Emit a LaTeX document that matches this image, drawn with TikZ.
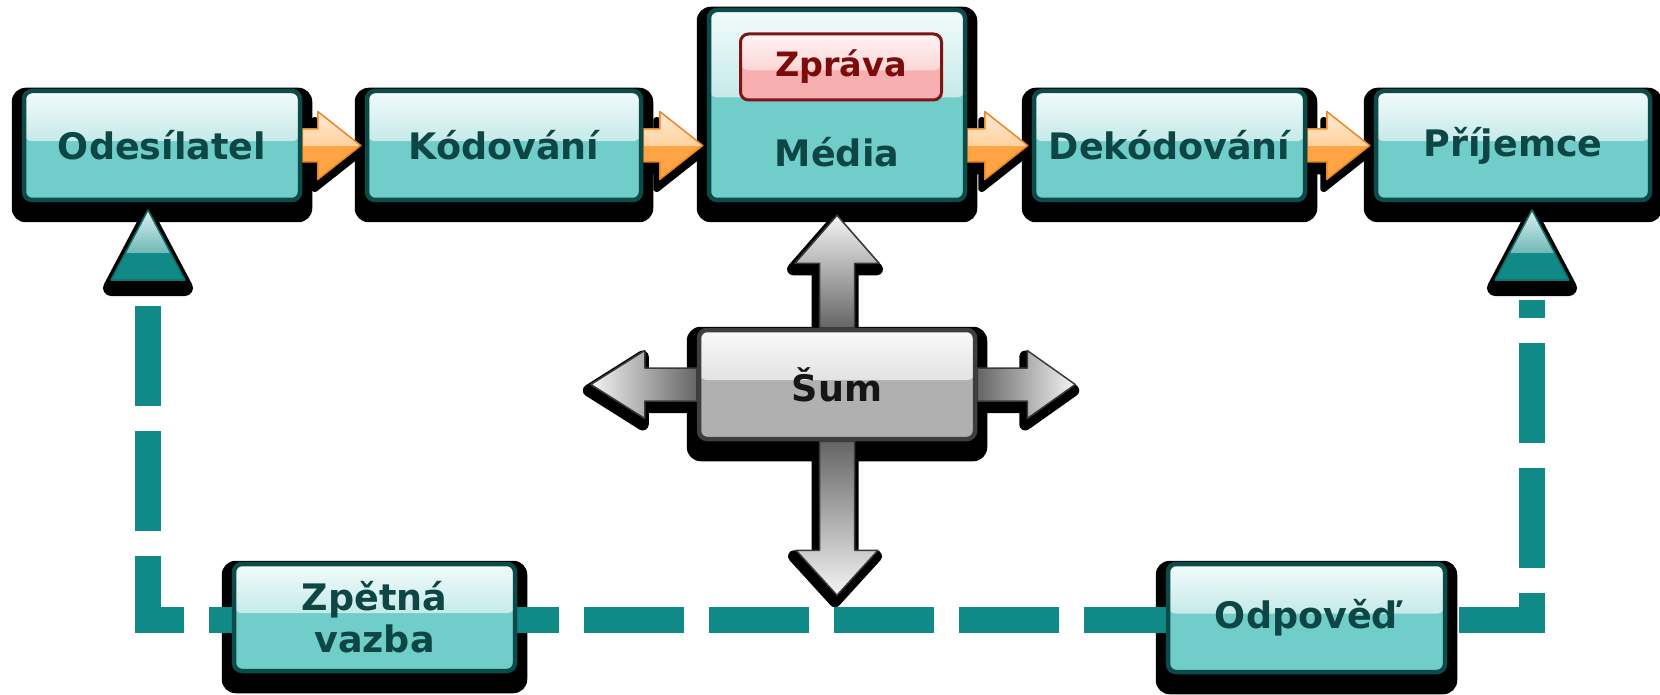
\documentclass[tikz,border=0pt]{standalone}
\usepackage{fontspec}
\setmainfont{DejaVu Sans}
\usetikzlibrary{calc}
\definecolor{tealbase}{HTML}{70CDCA}
\definecolor{tealmid}{HTML}{8FD6D3}
\definecolor{tealtop}{HTML}{F3FBFB}
\definecolor{tealborder}{HTML}{0B4B49}
\definecolor{tealtext}{HTML}{0D4644}
\definecolor{fbteal}{HTML}{108A87}
\definecolor{tridark}{HTML}{118A87}
\definecolor{trimid}{HTML}{2B9693}
\definecolor{tritop}{HTML}{D9F0EF}
\definecolor{triborder}{HTML}{0F6F6C}
\definecolor{pinkbase}{HTML}{F7AFAF}
\definecolor{pinkmid}{HTML}{F8BDBD}
\definecolor{pinktop}{HTML}{FFF4F4}
\definecolor{pinkborder}{HTML}{7E1414}
\definecolor{pinktext}{HTML}{7D0B0B}
\definecolor{graybase}{HTML}{B0B0B0}
\definecolor{graymid}{HTML}{C6C6C6}
\definecolor{graytop}{HTML}{FAFAFA}
\definecolor{grayborder}{HTML}{3E3E3E}
\definecolor{graytext}{HTML}{151515}
\definecolor{orbase}{HTML}{FFA445}
\definecolor{ormid}{HTML}{FFB868}
\definecolor{ortop}{HTML}{FFEBD6}
\definecolor{orborder}{HTML}{EC8620}
\definecolor{garlight}{HTML}{F4F4F4}
\definecolor{gardark}{HTML}{656565}
\definecolor{garborder}{HTML}{3A3A3A}

\pgfdeclarelayer{shadow}
\pgfdeclarelayer{mid}
\pgfsetlayers{shadow,mid,main}

\newcommand\boxfont{\fontsize{36.5pt}{42pt}\selectfont\bfseries}
\newcommand\msgfont{\fontsize{33.5pt}{40pt}\selectfont\bfseries}

% block arrow: start, tip, dx, dy, shaft half width, head half width, head length, style
\newcommand\barrow[8]{%
 \path[#8] ($(#1)+({-(#4)*(#5)},{(#3)*(#5)})$)
  -- ($(#2)+({-(#3)*(#7)-(#4)*(#5)},{-(#4)*(#7)+(#3)*(#5)})$)
  -- ($(#2)+({-(#3)*(#7)-(#4)*(#6)},{-(#4)*(#7)+(#3)*(#6)})$)
  -- (#2)
  -- ($(#2)+({-(#3)*(#7)+(#4)*(#6)},{-(#4)*(#7)-(#3)*(#6)})$)
  -- ($(#2)+({-(#3)*(#7)+(#4)*(#5)},{-(#4)*(#7)-(#3)*(#5)})$)
  -- ($(#1)+({(#4)*(#5)},{-(#3)*(#5)})$) -- cycle;}
% feedback arrowhead (triangle) above a line end
\newcommand\trishape[2]{\path[#2] ($(#1)+(0,-90)$) -- ($(#1)+(37,-20)$) -- ($(#1)+(-37,-20)$) -- cycle;}

\tikzset{
 gloss/.style n args={3}{path picture={
   \shade[top color=#1, bottom color=#2]
     (path picture bounding box.north west) rectangle
     ($(path picture bounding box.north east)!#3!(path picture bounding box.south east)$);}},
 tealbox/.style={shape=rectangle, rounded corners=8pt, draw=tealborder, line width=4.5pt, fill=tealbase, gloss={tealtop}{tealmid}{0.46}, text=tealtext, font=\boxfont, align=center, inner sep=0pt},
 pinkbox/.style={shape=rectangle, rounded corners=8pt, draw=pinkborder, line width=3pt, fill=pinkbase, gloss={pinktop}{pinkmid}{0.55}, text=pinktext, font=\msgfont, inner sep=0pt},
 graybox/.style={shape=rectangle, rounded corners=8pt, draw=grayborder, line width=4.5pt, fill=graybase, gloss={graytop}{graymid}{0.46}, text=graytext, font=\boxfont, inner sep=0pt},
 boxtext/.style={text=tealtext, font=\boxfont, inner sep=0pt},
 boxshadow/.style={fill=black, rounded corners=14pt},
 arrshadow/.style={fill=black, draw=black, line width=#1, line join=round},
 orarrow/.style={fill=orbase, gloss={ortop}{ormid}{0.5}, draw=orborder, line width=1.5pt, line join=round},
 grayarrow/.style={draw=garborder, line width=1.5pt, line join=round},
 fbline/.style={draw=fbteal, line width=26pt, dash pattern=on 100pt off 25pt, dash phase=82pt, line cap=butt, line join=miter},
 trihead/.style={fill=tridark, gloss={tritop}{trimid}{0.6}, draw=triborder, line width=1.5pt, line join=round},
 trishadow/.style={fill=black, draw=black, line width=16pt, line join=round}
}

\begin{document}
\begin{tikzpicture}[x=1pt,y=-1pt]
\useasboundingbox (0,0) rectangle (1660,695);

% boxes
\node[tealbox, minimum width=276pt, minimum height=109pt] (ods) at (162,145.5) {Odesílatel};
\node[tealbox, minimum width=274pt, minimum height=109pt] (kod) at (504,145.5) {Kódování};
\node[tealbox, minimum width=256pt, minimum height=190pt] (med) at (837,105) {};
\node[boxtext] (medt) at (837,152) {Média};
\node[pinkbox, minimum width=201pt, minimum height=66pt] (zpr) at (841,67) {Zpráva};
\node[tealbox, minimum width=271pt, minimum height=109pt] (dek) at (1169.5,145.5) {Dekódování};
\node[tealbox, minimum width=274pt, minimum height=109pt] (pri) at (1513,145.5) {Příjemce};
\node[graybox, minimum width=276pt, minimum height=109pt] (sum) at (837,384.5) {Šum};
\node[tealbox, minimum width=281pt, minimum height=107pt] (zpv) at (374.5,617.5) {Zpětná\\vazba};
\node[tealbox, minimum width=277pt, minimum height=108pt] (odp) at (1306.5,618) {Odpověď};

% box shadows
\begin{pgfonlayer}{shadow}
\foreach \nn in {ods,kod,med,dek,pri,sum,zpv,odp}
  \path[boxshadow] ($(\nn.north west)+(-10,-1)$) rectangle ($(\nn.south east)+(10,20)$);
\end{pgfonlayer}

% feedback loop
\coordinate (fbR) at (1532,300);
\coordinate (fbL) at (148,300);
\coordinate (fbB) at (148,620);
\begin{pgfonlayer}{mid}
\draw[fbline] (fbR) |- (fbB) -- (fbL);
\end{pgfonlayer}
\begin{pgfonlayer}{shadow}
\trishape{fbL}{trishadow, transform canvas={shift={(0,8)}}}
\trishape{fbR}{trishadow, transform canvas={shift={(0,8)}}}
\end{pgfonlayer}
\begin{pgfonlayer}{mid}
\trishape{fbL}{trihead}
\trishape{fbR}{trihead}
\end{pgfonlayer}

% orange flow arrows
\coordinate (a1s) at (ods.east);
\coordinate (a1t) at ($(kod.west)+(-4,0)$);
\coordinate (a2s) at (kod.east);
\coordinate (a2t) at ($(med.west |- kod.west)+(-4,0)$);
\coordinate (a3s) at (med.east |- dek.west);
\coordinate (a3t) at ($(dek.west)+(-4,0)$);
\coordinate (a4s) at (dek.east);
\coordinate (a4t) at ($(pri.west)+(-4,0)$);
\foreach \sa/\ta in {a1s/a1t,a2s/a2t,a3s/a3t,a4s/a4t}{
  \begin{pgfonlayer}{shadow}
  \barrow{\sa}{\ta}{1}{0}{16.5}{34}{43}{arrshadow=7pt, transform canvas={shift={(-3,9)}}}
  \end{pgfonlayer}
  \begin{pgfonlayer}{mid}
  \barrow{\sa}{\ta}{1}{0}{16.5}{34}{43}{orarrow}
  \end{pgfonlayer}
}

% noise arrows
\coordinate (gUs) at (sum.north);
\coordinate (gUt) at ($(med.south)+(0,13)$);
\coordinate (gDs) at (sum.south);
\coordinate (gDt) at ($(sum.south)+(0,154)$);
\coordinate (gLs) at (sum.west);
\coordinate (gLt) at ($(sum.west)+(-106,0)$);
\coordinate (gRs) at (sum.east);
\coordinate (gRt) at ($(sum.east)+(98,0)$);
\begin{pgfonlayer}{shadow}
\barrow{gUs}{gUt}{0}{-1}{17.5}{42}{48}{arrshadow=12pt, transform canvas={shift={(-2,6)}}}
\barrow{gDs}{gDt}{0}{1}{17.5}{41}{45}{arrshadow=12pt, transform canvas={shift={(-2,6)}}}
\barrow{gLs}{gLt}{-1}{0}{16.5}{34}{54}{arrshadow=12pt, transform canvas={shift={(-2,6)}}}
\barrow{gRs}{gRt}{1}{0}{16.5}{34}{48}{arrshadow=12pt, transform canvas={shift={(-2,6)}}}
\end{pgfonlayer}
\begin{pgfonlayer}{mid}
\barrow{gUs}{gUt}{0}{-1}{17.5}{42}{48}{grayarrow, top color=garlight, bottom color=gardark}
\barrow{gDs}{gDt}{0}{1}{17.5}{41}{45}{grayarrow, top color=gardark, bottom color=garlight}
\barrow{gLs}{gLt}{-1}{0}{16.5}{34}{54}{grayarrow, left color=garlight, right color=gardark}
\barrow{gRs}{gRt}{1}{0}{16.5}{34}{48}{grayarrow, left color=gardark, right color=garlight}
\end{pgfonlayer}
\end{tikzpicture}
\end{document}
